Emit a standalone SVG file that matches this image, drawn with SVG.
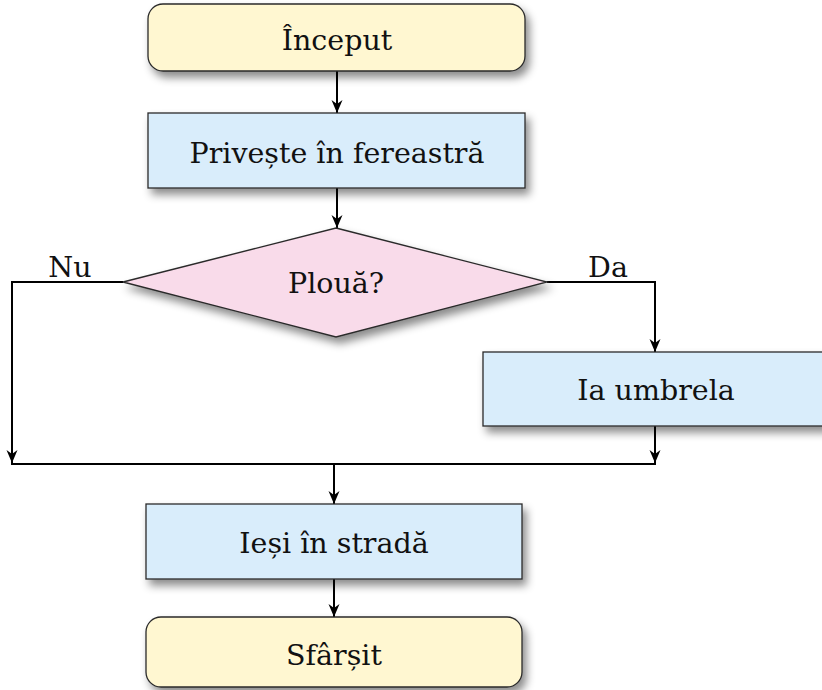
<svg xmlns="http://www.w3.org/2000/svg" width="822" height="690" viewBox="0 0 822 690">
<style>
  .term { fill: #fff7d1; stroke: #2a2a2a; stroke-width: 1.3; }
  .proc { fill: #d9edfb; stroke: #2a2a2a; stroke-width: 1.3; }
  .dec { fill: #f9dbea; stroke: #2a2a2a; stroke-width: 1.3; }
  .lbl { font-family: "DejaVu Serif", "Liberation Serif", serif; font-size: 28.5px; fill: #111; text-anchor: middle; }
  .edge { fill: none; stroke: #000; stroke-width: 2; }
  .arr { marker-end: url(#ah); }
</style>
<defs>
  <filter id="sh" x="-10%" y="-20%" width="130%" height="160%">
    <feDropShadow dx="4" dy="6" stdDeviation="4" flood-color="#000" flood-opacity="0.45"/>
  </filter>
  <marker id="ah" markerUnits="userSpaceOnUse" markerWidth="16" markerHeight="14" refX="14" refY="7" orient="auto" viewBox="0 0 16 14">
    <path d="M14,7 L1,1.5 L5,7 L1,12.5 Z" fill="#000"/>
  </marker>
</defs>
<rect width="822" height="690" fill="#fff"/>

<g id="connectors">
  <path class="edge arr" d="M337,71 V113"/>
  <path class="edge arr" d="M337,188 V228"/>
  <path class="edge arr" d="M123,282 H12 V463"/>
  <path class="edge arr" d="M547,282 H655 V352"/>
  <path class="edge arr" d="M655,426 V463"/>
  <path class="edge" d="M11,464 H656"/>
  <path class="edge arr" d="M334,464 V504"/>
  <path class="edge arr" d="M334,579 V617"/>
  <text class="lbl" x="70" y="277">Nu</text>
  <text class="lbl" x="608" y="277">Da</text>
</g>

<g id="start">
  <rect class="term" filter="url(#sh)" x="148" y="4" width="377" height="67" rx="15"/>
  <text class="lbl" x="337" y="50">Început</text>
</g>
<g id="look">
  <rect class="proc" filter="url(#sh)" x="148" y="113" width="377" height="75"/>
  <text class="lbl" x="337" y="163">Privește în fereastră</text>
</g>
<g id="rain">
  <polygon class="dec" filter="url(#sh)" points="336,228 547,282 336,337 123,282"/>
  <text class="lbl" x="336" y="293">Plouă?</text>
</g>
<g id="umbrella">
  <rect class="proc" filter="url(#sh)" x="483" y="352" width="344" height="74"/>
  <text class="lbl" x="656" y="400">Ia umbrela</text>
</g>
<g id="street">
  <rect class="proc" filter="url(#sh)" x="146" y="504" width="376" height="75"/>
  <text class="lbl" x="334" y="553">Ieși în stradă</text>
</g>
<g id="end">
  <rect class="term" filter="url(#sh)" x="146" y="617" width="376" height="70" rx="15"/>
  <text class="lbl" x="334" y="665">Sfârșit</text>
</g>
</svg>
